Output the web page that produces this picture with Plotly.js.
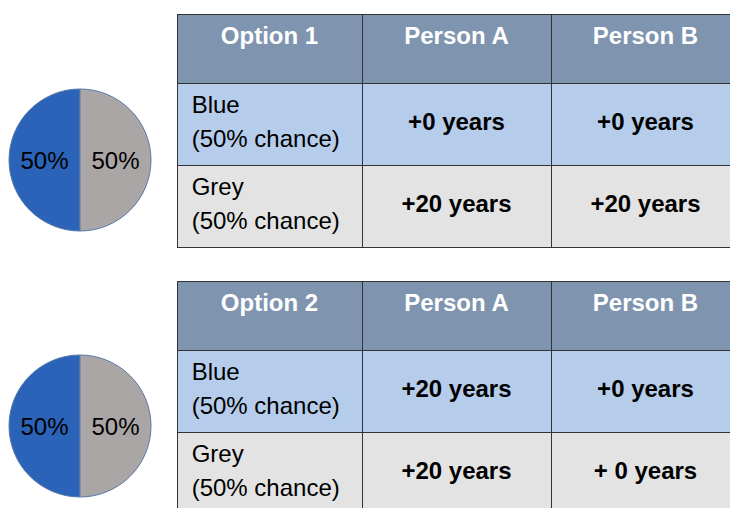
<!DOCTYPE html>
<html>
<head>
<meta charset="utf-8">
<script src="https://cdn.plot.ly/plotly-3.0.1.min.js"></script>
<style>
html, body { margin: 0; padding: 0; overflow: hidden; background: #fff; }
#chart { width: 740px; height: 515px; }
</style>
</head>
<body>
<div id="chart"></div>
<script>
// ---- data ----
var pieLabels = ["Blue", "Grey"];
var pieValues = [50, 50];

var header1 = ["Option 1", "Person A", "Person B"];
var header2 = ["Option 2", "Person A", "Person B"];
var rowLabels = ["Blue<br>(50% chance)", "Grey<br>(50% chance)"];
var personA1 = ["+0 years", "+20 years"];
var personB1 = ["+0 years", "+20 years"];
var personA2 = ["+20 years", "+20 years"];
var personB2 = ["+0 years", "+ 0 years"];

// ---- styling ----
var W = 740, H = 515;
var FONT = "Liberation Sans, Arial, sans-serif";
var headerColor = "#7F94AF";
var rowColors = ["#B5CCEA", "#E3E3E3"];
var pieColors = ["#2A63B8", "#ABA6A6"];
var lineColor = "#333333";

function py(v) { return 1 - v / H; }
function px(v) { return v / W; }
function big(s) { return "<span style='font-size:24px'>" + s + "</span>"; }
function headerText(arr) { return arr.map(function (s) { return "<b>" + s + "</b>"; }); }
function leftCell(arr) {
  return arr.map(function (s) {
    return s.split("<br>").map(function (l) { return big("&nbsp;" + l); }).join("<br>");
  });
}
// push single-line values down toward the middle of the cell
function midCell(arr) {
  return arr.map(function (s) { return "&nbsp;<br>" + big("<b>" + s + "</b>"); });
}

function makeTable(header, a, b, top, bottom) {
  return {
    type: "table",
    domain: { x: [px(177), 1], y: [py(bottom), py(top)] },
    columnwidth: [185, 189, 189],
    header: {
      values: headerText(header),
      align: "center",
      height: 69,
      fill: { color: headerColor },
      line: { color: lineColor, width: 1 },
      font: { family: FONT, size: 24, color: "#ffffff" }
    },
    cells: {
      values: [leftCell(rowLabels), midCell(a), midCell(b)],
      align: ["left", "center", "center"],
      height: 82,
      fill: { color: [rowColors, rowColors, rowColors] },
      line: { color: lineColor, width: 1 },
      font: { family: FONT, size: [26, 18, 18], color: "#000000" }
    }
  };
}

function makePie(top) {
  return {
    type: "pie",
    labels: pieLabels,
    values: pieValues,
    sort: false,
    direction: "clockwise",
    rotation: 180,
    textinfo: "percent",
    textposition: "inside",
    insidetextorientation: "horizontal",
    textfont: { family: FONT, size: 24, color: "#000000" },
    marker: { colors: pieColors, line: { color: "#5A78A8", width: 1 } },
    domain: { x: [px(9), px(151)], y: [py(top + 142), py(top)] },
    showlegend: false,
    hoverinfo: "none"
  };
}

var data = [
  makeTable(header1, personA1, personB1, 14, 248),
  makeTable(header2, personA2, personB2, 281, 515),
  makePie(89),
  makePie(355)
];

var layout = {
  width: W, height: H,
  margin: { l: 0, r: 0, t: 0, b: 0 },
  paper_bgcolor: "#ffffff",
  showlegend: false,
  font: { family: FONT }
};

Plotly.newPlot("chart", data, layout, { displayModeBar: false, staticPlot: true });
</script>
</body>
</html>
